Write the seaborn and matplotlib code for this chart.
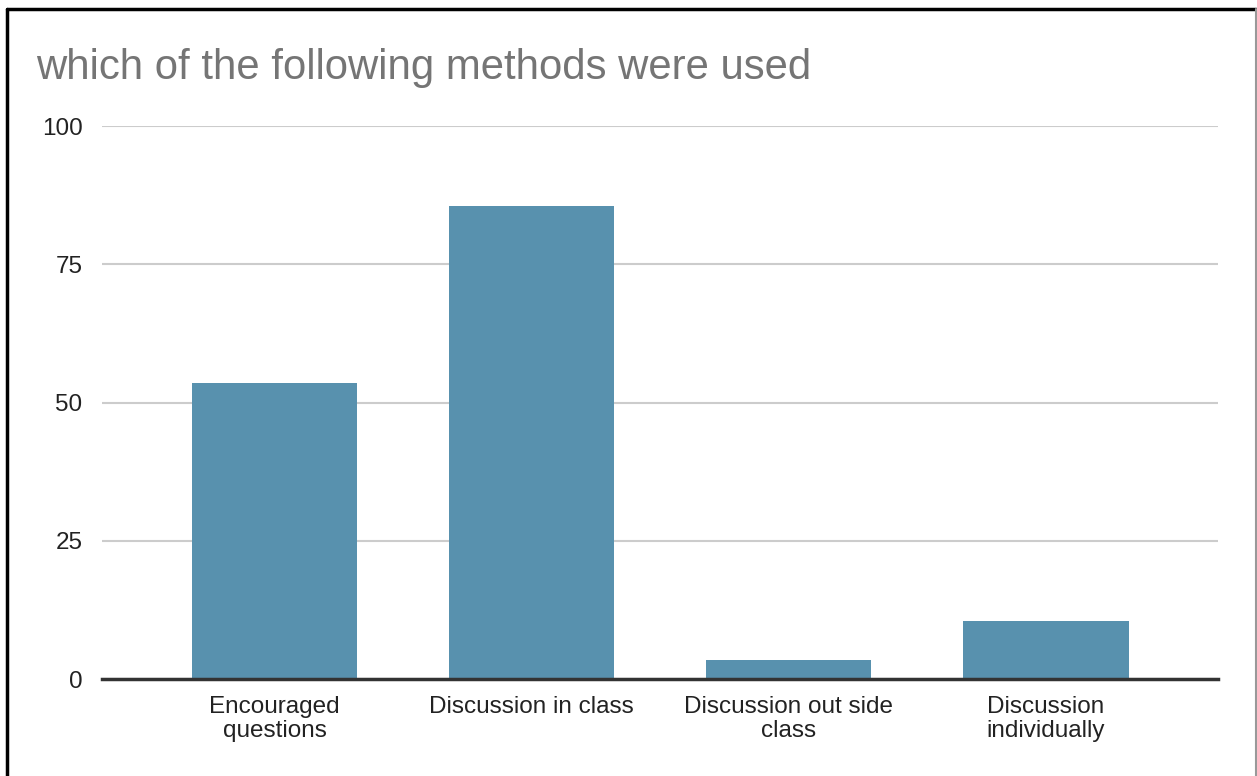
import matplotlib
matplotlib.use("Agg")
import matplotlib.pyplot as plt
from matplotlib.lines import Line2D
import seaborn as sns
import pandas as pd

# Survey responses
categories = ["Encouraged\nquestions", "Discussion in class",
              "Discussion out side\nclass", "Discussion\nindividually"]
values = [53.5, 85.5, 3.4, 10.5]
y_ticks = [0, 25, 50, 75, 100]
title = "which of the following methods were used"

sns.set_theme(style="white")
plt.rcParams["font.family"] = ["Liberation Sans", "DejaVu Sans"]

df = pd.DataFrame({"method": categories, "count": values})

fig = plt.figure(figsize=(12.57, 7.76), dpi=100)
ax = fig.add_axes([0.0811, 0.125, 0.888, 0.7126])

sns.barplot(data=df, x="method", y="count", color="#5891ae",
            saturation=1, width=0.645, linewidth=0, ax=ax, zorder=3)

ax.set_xlim(-0.671, 3.671)
ax.set_ylim(0, 100)
ax.set_yticks(y_ticks)
ax.set_yticklabels([str(t) for t in y_ticks])
ax.set_xlabel("")
ax.set_ylabel("")

for s in ["top", "right", "left"]:
    ax.spines[s].set_visible(False)
ax.spines["bottom"].set_color("#333333")
ax.spines["bottom"].set_linewidth(2.5)
ax.spines["bottom"].set_zorder(4)

ax.yaxis.grid(True, color="#cccccc", linewidth=1.5, zorder=0)
ax.set_axisbelow(True)
ax.tick_params(axis="both", length=0, labelsize=17.5, colors="#222222")
ax.tick_params(axis="y", pad=14)
ax.tick_params(axis="x", pad=12)
for lbl in ax.get_xticklabels():
    lbl.set_linespacing(1.15)

fig.text(36 / 1257, 1 - 68 / 776, title, fontsize=30.2, color="#757575",
         ha="left", va="center")

# frame around the chart area
W, H = 1257, 776
fig.add_artist(Line2D([7 / W, 7 / W], [0, 1 - 9 / H], color="black",
                      linewidth=2.5, transform=fig.transFigure))
fig.add_artist(Line2D([7 / W, 1256 / W], [1 - 9 / H, 1 - 9 / H], color="black",
                      linewidth=2.5, transform=fig.transFigure))
fig.add_artist(Line2D([1255.5 / W, 1255.5 / W], [0, 1 - 9 / H], color="#999999",
                      linewidth=1.5, transform=fig.transFigure))

fig.savefig("out.png", dpi=100)
